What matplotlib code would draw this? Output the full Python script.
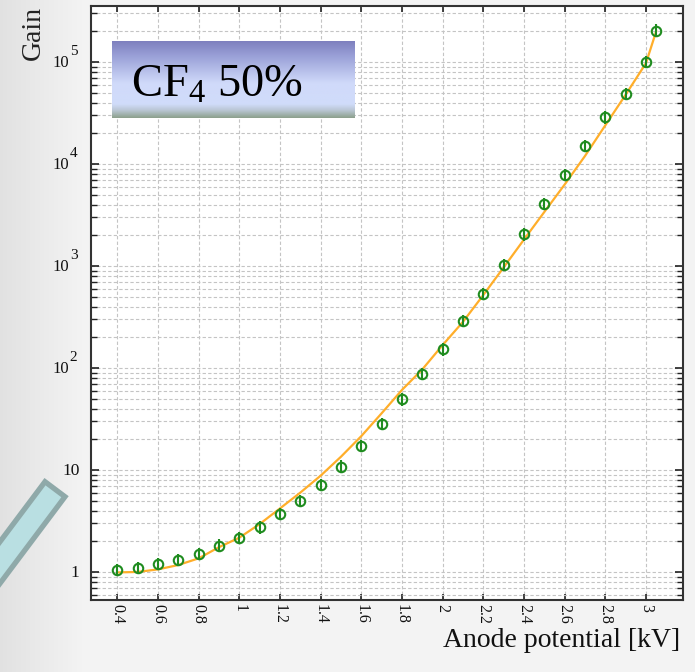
import numpy as np
import matplotlib
matplotlib.use("Agg")
import matplotlib.pyplot as plt
import matplotlib.transforms as mtransforms
from matplotlib.patches import Polygon
from matplotlib.ticker import LogLocator, NullFormatter, FixedLocator

plt.rcParams['font.family'] = ['Liberation Serif', 'DejaVu Serif']
plt.rcParams['mathtext.fontset'] = 'custom'
plt.rcParams['mathtext.rm'] = 'Liberation Serif'
plt.rcParams['mathtext.it'] = 'Liberation Serif:italic'

# ---- data ----
voltage = [0.4, 0.5, 0.6, 0.7, 0.8, 0.9, 1.0, 1.1, 1.2, 1.3, 1.4, 1.5, 1.6, 1.7,
           1.8, 1.9, 2.0, 2.1, 2.2, 2.3, 2.4, 2.5, 2.6, 2.7, 2.8, 2.9, 3.0, 3.05]
gain = [1.05, 1.10, 1.20, 1.31, 1.51, 1.81, 2.14, 2.74, 3.68, 4.97, 7.13, 10.8,
        17.1, 28.3, 49.3, 87.3, 152, 291, 531, 1023, 2040, 4055, 7800, 15000,
        28700, 48600, 100700, 204000]
rel_err = 0.15

fit_voltage = [0.4, 0.5, 0.6, 0.7, 0.8, 0.9, 1.0, 1.1, 1.2, 1.3, 1.4, 1.5, 1.6,
               1.7, 1.8, 1.9, 2.0, 2.1, 2.2, 2.3, 2.4, 2.5, 2.6, 2.7, 2.8, 2.9,
               3.0, 3.05]
fit_gain = [0.99, 1.00, 1.06, 1.17, 1.36, 1.75, 2.17, 2.95, 4.2, 6.0, 8.8, 13.5,
            21.5, 36, 61, 97, 168, 284, 520, 970, 1820, 3390, 6300, 12000,
            24000, 47900, 97700, 200000]

x_ticks = [0.4, 0.6, 0.8, 1.0, 1.2, 1.4, 1.6, 1.8, 2.0, 2.2, 2.4, 2.6, 2.8, 3.0]
x_ticklabels = ['0.4', '0.6', '0.8', '1', '1.2', '1.4', '1.6', '1.8', '2',
                '2.2', '2.4', '2.6', '2.8', '3']
y_ticks = [1, 10, 100, 1000, 10000, 100000]
y_tick_base = ['1', '10', '10', '10', '10', '10']
y_tick_exp = ['', '', '2', '3', '4', '5']

W, H = 695, 672
fig = plt.figure(figsize=(W / 100, H / 100), dpi=100)
fig.patch.set_facecolor('#f4f4f4')

# soft grey backdrop on the left margin
bg = fig.add_axes([0, 0, 1, 1], zorder=-5)
bg.set_axis_off()
tx = np.linspace(0, 1, 300)
shade = np.clip(1 - tx / 0.12, 0, 1)
row = 0.955 - 0.07 * shade
img = np.tile(row[None, :, None], (10, 1, 3))
bg.imshow(img, aspect='auto', extent=[0, 1, 0, 1])
bg.set_xlim(0, 1)
bg.set_ylim(0, 1)

# decorative teal bar (bottom-left)
def px(x, y):
    return (x / W, 1 - y / H)
bar = Polygon([px(45, 481.7), px(65, 496.7), px(-7, 592.7), px(-27, 577.7)],
              closed=True, transform=fig.transFigure, facecolor='#b9dfe2',
              edgecolor='#8fa9a9', linewidth=3.8, zorder=0)
fig.patches.append(bar)

ax = fig.add_axes([90.7 / W, 1 - 600 / H, (683 - 90.7) / W, (600 - 6) / H])
ax.set_facecolor('white')
ax.set_yscale('log')
ax.set_xlim(0.269, 3.182)
ax.set_ylim(10 ** -0.275, 10 ** 5.55)

# grid
ax.xaxis.set_major_locator(FixedLocator(x_ticks))
ax.yaxis.set_major_locator(FixedLocator(y_ticks))
ax.yaxis.set_minor_locator(LogLocator(base=10, subs=np.arange(2, 10), numticks=20))
ax.yaxis.set_minor_formatter(NullFormatter())
ax.grid(True, which='major', axis='x', color='#c4c4c4', linestyle=(0, (3, 2)), linewidth=0.8)
ax.grid(True, which='both', axis='y', color='#c4c4c4', linestyle=(0, (3, 2)), linewidth=0.8)
ax.set_axisbelow(True)

ax.set_xticklabels(x_ticklabels, rotation=270, fontsize=11.5, color='#111111')
ax.set_yticklabels([])
ax.tick_params(axis='x', which='major', direction='in', top=True, bottom=True,
               length=4, width=1.2, color='#222222', pad=3)
ax.tick_params(axis='y', which='major', direction='in', left=True, right=True,
               length=6, width=1.2, color='#222222')
ax.tick_params(axis='y', which='minor', direction='in', left=True, right=True,
               length=4, width=1.0, color='#222222')
for lab in ax.get_xticklabels():
    lab.set_verticalalignment('top')
    lab.set_horizontalalignment('center')

# y tick labels placed manually: base digits + large superscript exponent
for v, b, e in zip(y_ticks, y_tick_base, y_tick_exp):
    if e:
        tr_b = mtransforms.offset_copy(ax.get_yaxis_transform(), fig=fig, x=-22, y=-5, units='dots')
        tr_e = mtransforms.offset_copy(ax.get_yaxis_transform(), fig=fig, x=-21, y=7, units='dots')
        ax.text(0, v, b, transform=tr_b, ha='right', va='baseline', fontsize=12, color='#111111')
        ax.text(0, v, e, transform=tr_e, ha='left', va='baseline', fontsize=11, color='#111111')
    else:
        tr_b = mtransforms.offset_copy(ax.get_yaxis_transform(), fig=fig, x=-11, y=-5, units='dots')
        ax.text(0, v, b, transform=tr_b, ha='right', va='baseline', fontsize=12.5, color='#111111')

for sp in ax.spines.values():
    sp.set_color('#333333')
    sp.set_linewidth(1.5)

# fit curve and data
ax.plot(fit_voltage, fit_gain, color='#ffae2a', linewidth=1.6, zorder=3)
g = np.array(gain)
yerr = [g * (1 - 1 / (1 + rel_err)), g * rel_err]
ax.errorbar(voltage, gain, yerr=yerr, fmt='o', markersize=6.8, markerfacecolor='none',
            markeredgecolor='#1f8c1f', markeredgewidth=1.5, ecolor='#1f8c1f',
            elinewidth=1.5, capsize=0, zorder=4)

# CF4 box with gradient
bx = fig.add_axes([112 / W, 1 - 118 / H, (355 - 112) / W, (118 - 41) / H])
bx.set_axis_off()
stops = [0.0, 0.18, 0.55, 0.82, 0.9, 1.0]
cols = np.array([[126, 128, 190], [152, 158, 214], [208, 218, 250], [208, 220, 250],
                 [186, 198, 212], [140, 160, 140]]) / 255.0
t = np.linspace(0, 1, 200)
grad = np.stack([np.interp(t, stops, cols[:, i]) for i in range(3)], axis=1)
bx.imshow(grad[:, None, :], aspect='auto', extent=[0, 1, 0, 1])
bx.set_xlim(0, 1)
bx.set_ylim(0, 1)
fig.text(131 / W, 1 - 97 / H, r'CF$_{\mathrm{4}}$ 50%', fontsize=33.5, ha='left',
         va='baseline', color='black')

# axis labels
fig.text(33 / W, 1 - 33 / H, 'Gain', rotation=90, fontsize=20, ha='center',
         va='center', color='#222222')
fig.text(680 / W, 1 - 647 / H, 'Anode potential [kV]', fontsize=20, ha='right',
         va='baseline', color='#111111')

fig.savefig('out.png', dpi=100, facecolor=fig.get_facecolor())
